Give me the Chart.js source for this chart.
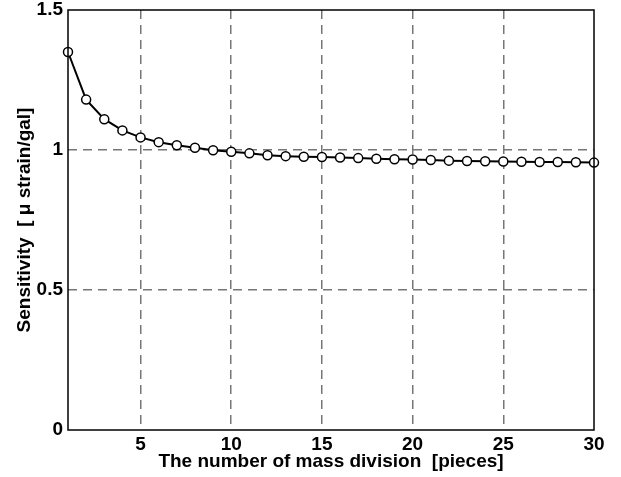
<!DOCTYPE html>
<html>
<head>
<meta charset="utf-8">
<script src="https://cdn.jsdelivr.net/npm/chart.js@4/dist/chart.umd.min.js"></script>
<style>
  html, body { margin: 0; padding: 0; background: #ffffff; }
  #wrap { width: 621px; height: 477px; position: relative; }
</style>
</head>
<body>
<div id="wrap"><canvas id="c" width="621" height="477"></canvas></div>
<script>
// Number of mass divisions and the resulting sensitivity
const divisions = [1,2,3,4,5,6,7,8,9,10,11,12,13,14,15,16,17,18,19,20,21,22,23,24,25,26,27,28,29,30];
const sensitivity = [1.35,1.18,1.11,1.07,1.045,1.028,1.017,1.008,0.999,0.994,0.988,0.981,0.978,0.976,0.975,
                     0.973,0.971,0.969,0.967,0.966,0.964,0.962,0.961,0.960,0.959,0.958,0.957,0.957,0.956,0.955];
const xTicks = [5,10,15,20,25,30];
const yTicks = [0,0.5,1,1.5];

const FONT = '"Liberation Sans", Arial, Helvetica, sans-serif';

// Solid black frame around the plotting area
const framePlugin = {
  id: 'frame',
  afterDatasetsDraw(chart) {
    const a = chart.chartArea, ctx = chart.ctx;
    ctx.save();
    ctx.strokeStyle = '#000';
    ctx.lineWidth = 1.5;
    ctx.setLineDash([]);
    ctx.strokeRect(a.left, a.top, a.right - a.left, a.bottom - a.top);
    ctx.restore();
  }
};

// Grid lines on the frame edges are hidden; the frame covers them
const gridColor = (edgeVals) => (ctx) => {
  const v = ctx.tick && ctx.tick.value;
  return edgeVals.includes(v) ? 'rgba(0,0,0,0)' : '#767676';
};

new Chart(document.getElementById('c'), {
  type: 'line',
  data: {
    datasets: [{
      data: divisions.map((d, i) => ({ x: d, y: sensitivity[i] })),
      borderColor: '#000',
      borderWidth: 2,
      pointRadius: 4.5,
      pointBorderWidth: 1.5,
      pointBackgroundColor: '#fff',
      pointBorderColor: '#000',
      tension: 0,
      clip: false
    }]
  },
  options: {
    responsive: false,
    animation: false,
    layout: { padding: { top: 10, right: 27, left: 0, bottom: 0 } },
    plugins: { legend: { display: false }, tooltip: { enabled: false } },
    scales: {
      x: {
        type: 'linear',
        min: 1, max: 30,
        afterBuildTicks(s) { s.ticks = xTicks.map(v => ({ value: v })); },
        afterFit(s) { s.height = 47; s.paddingLeft = 0; s.paddingRight = 0; },
        border: { display: false, dash: [9, 6] },
        grid: {
          color: gridColor([1, 30]),
          lineWidth: 1.5,
          drawTicks: false
        },
        ticks: {
          color: '#000',
          padding: 3,
          maxRotation: 0,
          font: { family: FONT, size: 19, weight: 'bold' },
          callback: v => String(v)
        },
        title: {
          display: true,
          text: 'The number of mass division  [pieces]',
          color: '#000',
          padding: { top: 0, bottom: 4 },
          font: { family: FONT, size: 19, weight: 'bold' }
        }
      },
      y: {
        type: 'linear',
        min: 0, max: 1.5,
        afterBuildTicks(s) { s.ticks = yTicks.map(v => ({ value: v })); },
        afterFit(s) { s.width = 68; s.paddingTop = 0; s.paddingBottom = 0; },
        border: { display: false, dash: [9, 6] },
        grid: {
          color: gridColor([0, 1.5]),
          lineWidth: 1.5,
          drawTicks: false
        },
        ticks: {
          color: '#000',
          padding: 5,
          font: { family: FONT, size: 19, weight: 'bold' },
          callback: v => String(v)
        },
        title: {
          display: true,
          text: 'Sensitivity  [ \u03bc strain/gal]',
          color: '#000',
          padding: { top: 13, bottom: 0 },
          font: { family: FONT, size: 19, weight: 'bold' }
        }
      }
    }
  },
  plugins: [framePlugin]
});
</script>
</body>
</html>
